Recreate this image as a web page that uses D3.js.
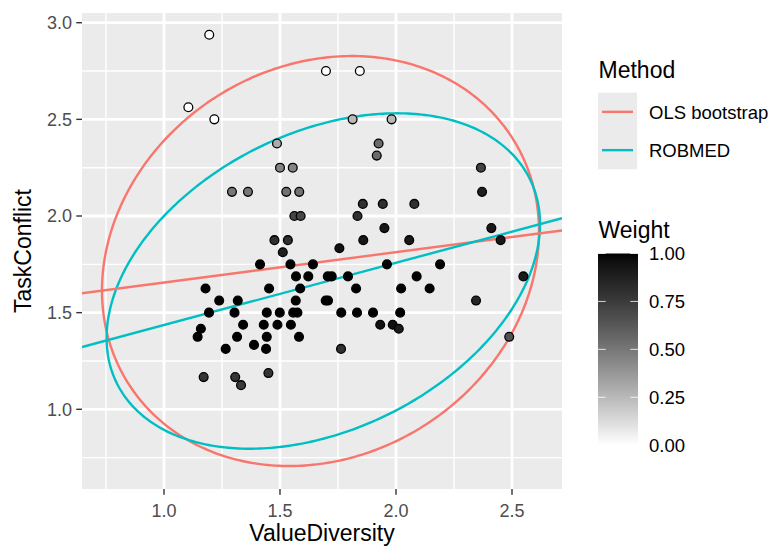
<!DOCTYPE html>
<html><head><meta charset="utf-8">
<script src="https://cdn.jsdelivr.net/npm/d3@7"></script>
<style>body{margin:0;background:#fff}svg{display:block;font-family:"Liberation Sans",Arial,sans-serif}</style>
</head><body><svg id="c" width="778" height="546"></svg>
<script>
// ---- data ----
const valueDiversity = [1.195,1.105,1.217,1.698,1.844,1.813,1.981,1.487,1.925,1.917,1.5,1.555,2.366,1.293,1.362,1.527,1.583,2.371,1.857,1.943,2.079,1.562,1.589,1.834,1.95,2.411,1.476,1.534,1.859,2.057,2.451,1.756,1.512,1.414,1.545,1.642,1.961,2.19,1.569,1.622,1.706,1.723,1.793,2.089,2.549,1.179,1.453,1.587,1.828,2.022,2.145,1.238,1.318,1.568,1.697,1.707,2.345,1.194,1.304,1.443,1.499,1.557,1.575,1.764,1.832,1.901,2.018,1.341,1.43,1.489,1.547,1.932,1.986,2.012,1.159,1.145,1.315,1.443,1.582,2.488,1.388,1.266,1.44,1.763,1.171,1.307,1.332,1.45];
const taskConflict = [2.9375,2.5625,2.5,2.75,2.75,2.5,2.5,2.375,2.375,2.3125,2.25,2.25,2.25,2.125,2.125,2.125,2.125,2.125,2.0625,2.0625,2.0625,2.0,2.0,2.0,1.9375,1.9375,1.875,1.875,1.875,1.875,1.875,1.8333,1.8125,1.75,1.75,1.75,1.75,1.75,1.6875,1.6875,1.6875,1.6875,1.6875,1.6875,1.6875,1.625,1.625,1.625,1.625,1.625,1.625,1.5625,1.5625,1.5625,1.5625,1.5625,1.5625,1.5,1.5,1.5,1.5,1.5,1.5,1.5,1.5,1.5,1.5,1.4375,1.4375,1.4375,1.4375,1.4375,1.4375,1.4167,1.4167,1.375,1.375,1.375,1.375,1.375,1.3333,1.3125,1.3125,1.3125,1.1667,1.1667,1.125,1.1875];
const weight = [0,0,0,0,0,0.25,0.25,0.3,0.55,0.55,0.45,0.45,0.72,0.5,0.5,0.52,0.52,0.88,0.8,0.8,0.8,0.7,0.7,0.8,0.92,0.92,0.8,0.8,0.92,0.92,0.92,0.95,0.88,1,1,1,1,1,1,1,1,1,1,1,0.9,1,1,1,1,1,1,1,1,1,1,1,0.85,1,1,1,1,1,1,1,1,1,1,1,1,1,1,0.95,0.95,0.9,1,1,1,1,1,0.65,1,1,1,0.8,0.78,0.78,0.75,0.78];

const methods = ["OLS bootstrap","ROBMED"];
const methodColors = ["#F8766D","#00BFC4"];
const lineIntercept = [1.499,1.114];
const lineSlope = [0.157,0.322];
const ellipseCenterX = [1.6746,1.6866];
const ellipseCenterY = [1.767,1.6637];
const ellipseVarX = [0.887,0.8724];
const ellipseCovXY = [0.1437,0.2754];
const ellipseVarY = [1.1247,0.7527];

const xTicks = [1.0,1.5,2.0,2.5];
const xMinor = [0.75,1.25,1.75,2.25];
const yTicks = [1.0,1.5,2.0,2.5,3.0];
const yMinor = [0.75,1.25,1.75,2.25,2.75];
const weightTicks = [0,0.25,0.5,0.75,1];

// ---- layout ----
const P = {l:82, r:562, t:13, b:489};
const svg = d3.select("#c");
const x = d3.scaleLinear().domain([0.6466,2.7155]).range([P.l,P.r]);
const y = d3.scaleLinear().domain([0.5877,3.0502]).range([P.b,P.t]);
const fillScale = d3.scaleLinear().domain([0,1]).range(["white","black"]).interpolate(d3.interpolateLab);

svg.append("defs").append("clipPath").attr("id","clip")
  .append("rect").attr("x",P.l).attr("y",P.t).attr("width",P.r-P.l).attr("height",P.b-P.t);

svg.append("rect").attr("x",P.l).attr("y",P.t).attr("width",P.r-P.l).attr("height",P.b-P.t).attr("fill","#EBEBEB");
const grid = svg.append("g");
xMinor.forEach(v=>grid.append("line").attr("x1",x(v)).attr("x2",x(v)).attr("y1",P.t).attr("y2",P.b).attr("stroke","#fff").attr("stroke-width",1.4));
yMinor.forEach(v=>grid.append("line").attr("y1",y(v)).attr("y2",y(v)).attr("x1",P.l).attr("x2",P.r).attr("stroke","#fff").attr("stroke-width",1.4));
xTicks.forEach(v=>grid.append("line").attr("x1",x(v)).attr("x2",x(v)).attr("y1",P.t).attr("y2",P.b).attr("stroke","#fff").attr("stroke-width",2.8));
yTicks.forEach(v=>grid.append("line").attr("y1",y(v)).attr("y2",y(v)).attr("x1",P.l).attr("x2",P.r).attr("stroke","#fff").attr("stroke-width",2.8));

const plot = svg.append("g").attr("clip-path","url(#clip)");
const lineGen = d3.line().x(d=>x(d[0])).y(d=>y(d[1]));
// ellipses
methods.forEach((m,i)=>{
  const l11 = Math.sqrt(ellipseVarX[i]);
  const l21 = ellipseCovXY[i]/l11;
  const l22 = Math.sqrt(ellipseVarY[i]-l21*l21);
  const pts = d3.range(0,361).map(a=>{const t=a*Math.PI/180;return [ellipseCenterX[i]+l11*Math.cos(t), ellipseCenterY[i]+l21*Math.cos(t)+l22*Math.sin(t)];});
  plot.append("path").attr("d",lineGen(pts)).attr("fill","none").attr("stroke",methodColors[i]).attr("stroke-width",2.4);
});
// regression lines
methods.forEach((m,i)=>{
  const d0 = x.domain();
  plot.append("path").attr("d",lineGen(d0.map(v=>[v,lineIntercept[i]+lineSlope[i]*v]))).attr("fill","none").attr("stroke",methodColors[i]).attr("stroke-width",2.4);
});
// points
const pts = valueDiversity.map((v,i)=>({x:v,y:taskConflict[i],w:weight[i]}));
plot.selectAll("circle.pt").data(pts).enter().append("circle")
  .attr("cx",d=>x(d.x)).attr("cy",d=>y(d.y)).attr("r",4.4)
  .attr("fill",d=>fillScale(d.w)).attr("stroke","#000").attr("stroke-width",1.3);

// axes
const ax = svg.append("g");
xTicks.forEach(v=>{
  ax.append("line").attr("x1",x(v)).attr("x2",x(v)).attr("y1",P.b).attr("y2",P.b+5.7).attr("stroke","#333").attr("stroke-width",1.4);
  ax.append("text").attr("x",x(v)).attr("y",517).attr("text-anchor","middle").attr("font-size",18).attr("fill","#4D4D4D").text(v.toFixed(1));
});
yTicks.forEach(v=>{
  ax.append("line").attr("x1",P.l-5.7).attr("x2",P.l).attr("y1",y(v)).attr("y2",y(v)).attr("stroke","#333").attr("stroke-width",1.4);
  ax.append("text").attr("x",72).attr("y",y(v)).attr("dy","0.36em").attr("text-anchor","end").attr("font-size",18).attr("fill","#4D4D4D").text(v.toFixed(1));
});
ax.append("text").attr("x",(P.l+P.r)/2).attr("y",541).attr("text-anchor","middle").attr("font-size",23).attr("fill","#000").text("ValueDiversity");
ax.append("text").attr("transform",`translate(31,${(P.t+P.b)/2}) rotate(-90)`).attr("text-anchor","middle").attr("font-size",23).attr("fill","#000").text("TaskConflict");

// legend: Method
const lg = svg.append("g");
lg.append("text").attr("x",598.5).attr("y",77.5).attr("font-size",23).text("Method");
methods.forEach((m,i)=>{
  const ky = 92.7 + i*38.3;
  lg.append("rect").attr("x",598).attr("y",ky).attr("width",39).attr("height",38.3).attr("fill","#EBEBEB");
  lg.append("line").attr("x1",602).attr("x2",633).attr("y1",ky+19.15).attr("y2",ky+19.15).attr("stroke",methodColors[i]).attr("stroke-width",2.4);
  lg.append("text").attr("x",649).attr("y",ky+19.15).attr("dy","0.36em").attr("font-size",18.5).text(m);
});
// legend: Weight
lg.append("text").attr("x",598.5).attr("y",238.3).attr("font-size",23).text("Weight");
const grad = svg.select("defs").append("linearGradient").attr("id","wg").attr("x1",0).attr("x2",0).attr("y1",1).attr("y2",0);
d3.range(0,21).forEach(k=>grad.append("stop").attr("offset",k/20).attr("stop-color",fillScale(k/20)));
const cb = {x:598,y:253.5,w:40,h:191.7};
lg.append("rect").attr("x",cb.x).attr("y",cb.y).attr("width",cb.w).attr("height",cb.h).attr("fill","url(#wg)");
const wy = d3.scaleLinear().domain([0,1]).range([cb.y+cb.h,cb.y]);
weightTicks.forEach(v=>{
  lg.append("line").attr("x1",cb.x).attr("x2",cb.x+7.7).attr("y1",wy(v)).attr("y2",wy(v)).attr("stroke","#fff").attr("stroke-opacity",0.8).attr("stroke-width",1);
  lg.append("line").attr("x1",cb.x+cb.w-7.7).attr("x2",cb.x+cb.w).attr("y1",wy(v)).attr("y2",wy(v)).attr("stroke","#fff").attr("stroke-opacity",0.8).attr("stroke-width",1);
  lg.append("text").attr("x",649).attr("y",wy(v)).attr("dy","0.36em").attr("font-size",18.5).text(v.toFixed(2));
});
</script></body></html>
